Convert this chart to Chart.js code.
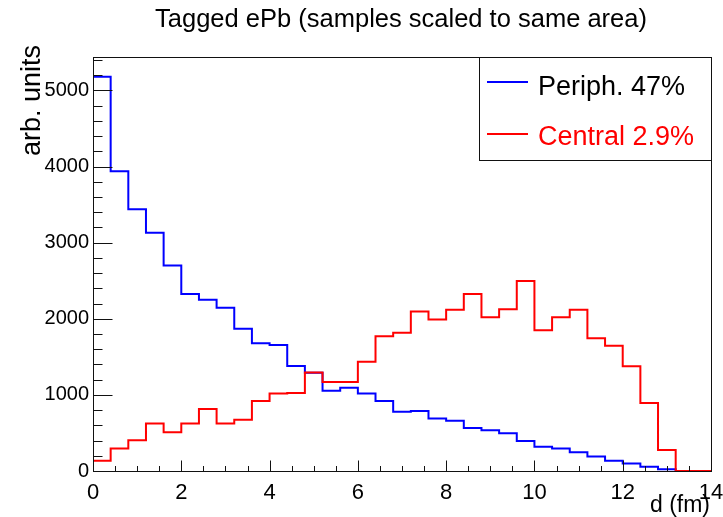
<!DOCTYPE html>
<html>
<head>
<meta charset="utf-8">
<title>Tagged ePb</title>
<script src="https://cdn.jsdelivr.net/npm/chart.js@4.4.1/dist/chart.umd.min.js"></script>
<style>
    html, body { margin: 0; padding: 0; background: #fff; }
    #wrap { width: 723px; height: 517px; }
</style>
</head>
<body>
<div id="wrap"><canvas id="dChart" width="723" height="517"></canvas></div>
<script>
// ─── Impact parameter distributions, tagged ePb ───

const FONT = '"Liberation Sans", Arial, Helvetica, sans-serif';

// Low edges of the 0.4 fm bins, plus the upper edge of the last bin
const binEdges = [0, 0.4, 0.8, 1.2, 1.6, 2.0, 2.4, 2.8, 3.2, 3.6, 4.0, 4.4, 4.8, 5.2, 5.6, 6.0,
    6.4, 6.8, 7.2, 7.6, 8.0, 8.4, 8.8, 9.2, 9.6, 10.0, 10.4, 10.8, 11.2, 11.6, 12.0, 12.4,
    12.8, 13.2, 13.6, 14.0];

const periphCounts = [5180, 3940, 3440, 3130, 2700, 2325, 2250, 2145, 1870, 1680, 1655, 1380,
    1290, 1055, 1095, 1020, 920, 780, 790, 690, 660, 565, 535, 495, 395, 320, 295, 245, 190,
    135, 100, 57, 22, 0, 0];

const centralCounts = [135, 295, 405, 625, 510, 625, 815, 625, 675, 920, 1020, 1025, 1295,
    1170, 1170, 1435, 1770, 1815, 2095, 1990, 2120, 2325, 2020, 2125, 2495, 1850, 2020, 2120,
    1745, 1645, 1375, 895, 275, 0, 0];

const xTicks = [0, 2, 4, 6, 8, 10, 12, 14];
const yTicks = [0, 1000, 2000, 3000, 4000, 5000];
const legendLabels = ['Periph. 47%', 'Central 2.9%'];
const legendTextColors = ['#000000', '#ff0000'];
const plotTitle = 'Tagged ePb (samples scaled to same area)';

// Turn bin contents into step points: each value holds from its low edge to the next edge
function toSteps(counts) {
    const pts = counts.map((c, i) => ({ x: binEdges[i], y: c }));
    pts.push({ x: binEdges[counts.length], y: counts[counts.length - 1] });
    return pts;
}

// Frame, inward ticks (major + minor), title and axis titles
const frameAndTicks = {
    id: 'frameAndTicks',
    afterDatasetsDraw(chart) {
        const { ctx, chartArea: a, scales: { x, y } } = chart;
        const L = Math.round(a.left) + 0.5;
        const B = Math.round(a.bottom) + 0.5;
        ctx.save();
        ctx.strokeStyle = '#111';
        ctx.lineWidth = 1;
        ctx.strokeRect(L, Math.round(a.top) + 0.5, Math.round(a.right) - Math.round(a.left), Math.round(a.bottom) - Math.round(a.top));

        ctx.beginPath();
        for (let v = 0; v <= y.max; v += 200) {
            const py = Math.round(y.getPixelForValue(v)) + 0.5;
            const len = yTicks.includes(v) ? 19 : 9;
            ctx.moveTo(L, py);
            ctx.lineTo(L + len, py);
        }
        for (let v = 0; v <= x.max; v += 0.5) {
            const px = Math.round(x.getPixelForValue(v)) + 0.5;
            const len = xTicks.includes(v) ? 11 : 5.5;
            ctx.moveTo(px, B);
            ctx.lineTo(px, B - len);
        }
        ctx.stroke();

        ctx.fillStyle = '#000';
        ctx.textBaseline = 'alphabetic';

        // title
        ctx.font = '25.5px ' + FONT;
        ctx.textAlign = 'center';
        ctx.fillText(plotTitle, 401, 27);

        // axis titles
        ctx.font = '23px ' + FONT;
        ctx.textAlign = 'right';
        ctx.fillText('d (fm)', 710, 512);

        ctx.font = '27px ' + FONT;
        ctx.translate(40, 45);
        ctx.rotate(-Math.PI / 2);
        ctx.fillText('arb. units', 0, 0);
        ctx.restore();
    }
};

// Boxed legend in the upper right corner
const boxLegend = {
    id: 'boxLegend',
    afterDraw(chart) {
        const { ctx } = chart;
        const box = { left: 479, top: 57, right: 711, bottom: 160 };
        ctx.save();
        ctx.fillStyle = '#fff';
        ctx.fillRect(box.left, box.top, box.right - box.left, box.bottom - box.top);
        ctx.strokeStyle = '#111';
        ctx.lineWidth = 1;
        ctx.strokeRect(box.left + 0.5, box.top + 0.5, box.right - box.left, box.bottom - box.top);

        ctx.font = '27px ' + FONT;
        ctx.textAlign = 'left';
        ctx.textBaseline = 'alphabetic';
        chart.data.datasets.slice().sort((a, b) => b.order - a.order).forEach((ds, i) => {
            const lineY = 82 + i * 52;
            ctx.strokeStyle = ds.borderColor;
            ctx.lineWidth = 2;
            ctx.beginPath();
            ctx.moveTo(487, lineY);
            ctx.lineTo(528, lineY);
            ctx.stroke();
            ctx.fillStyle = legendTextColors[i];
            ctx.fillText(legendLabels[i], 538, 95 + i * 50);
        });
        ctx.restore();
    }
};

const histDefaults = {
    stepped: 'before',
    fill: false,
    borderWidth: 2,
    pointRadius: 0,
    pointHoverRadius: 0,
    tension: 0
};

new Chart(document.getElementById('dChart'), {
    type: 'line',
    data: {
        datasets: [
            { ...histDefaults, label: legendLabels[0], data: toSteps(periphCounts), borderColor: '#0000ff', order: 2 },
            { ...histDefaults, label: legendLabels[1], data: toSteps(centralCounts), borderColor: '#ff0000', order: 1 }
        ]
    },
    options: {
        responsive: false,
        animation: false,
        devicePixelRatio: 1,
        layout: { padding: { left: 0, right: 12, top: 57, bottom: 0 } },
        plugins: {
            legend: { display: false },
            tooltip: { enabled: false },
            title: { display: false }
        },
        scales: {
            x: {
                type: 'linear',
                min: 0,
                max: 14,
                grid: { display: false, drawTicks: false },
                border: { display: false },
                ticks: {
                    maxRotation: 0,
                    autoSkip: false,
                    padding: 9,
                    color: '#000',
                    font: { family: FONT, size: 22 },
                    callback: v => String(v)
                },
                afterBuildTicks(scale) {
                    scale.ticks = xTicks.map(v => ({ value: v }));
                },
                afterFit(scale) {
                    scale.height = 46;
                    scale.paddingLeft = 0;
                    scale.paddingRight = 0;
                }
            },
            y: {
                type: 'linear',
                min: 0,
                max: 5440,
                grid: { display: false, drawTicks: false },
                border: { display: false },
                ticks: {
                    padding: 4,
                    color: '#000',
                    font: { family: FONT, size: 20 },
                    callback: v => String(v)
                },
                afterBuildTicks(scale) {
                    scale.ticks = yTicks.map(v => ({ value: v }));
                },
                afterFit(scale) {
                    scale.width = 93;
                    scale.paddingTop = 0;
                    scale.paddingBottom = 0;
                }
            }
        }
    },
    plugins: [frameAndTicks, boxLegend]
});
</script>
</body>
</html>
